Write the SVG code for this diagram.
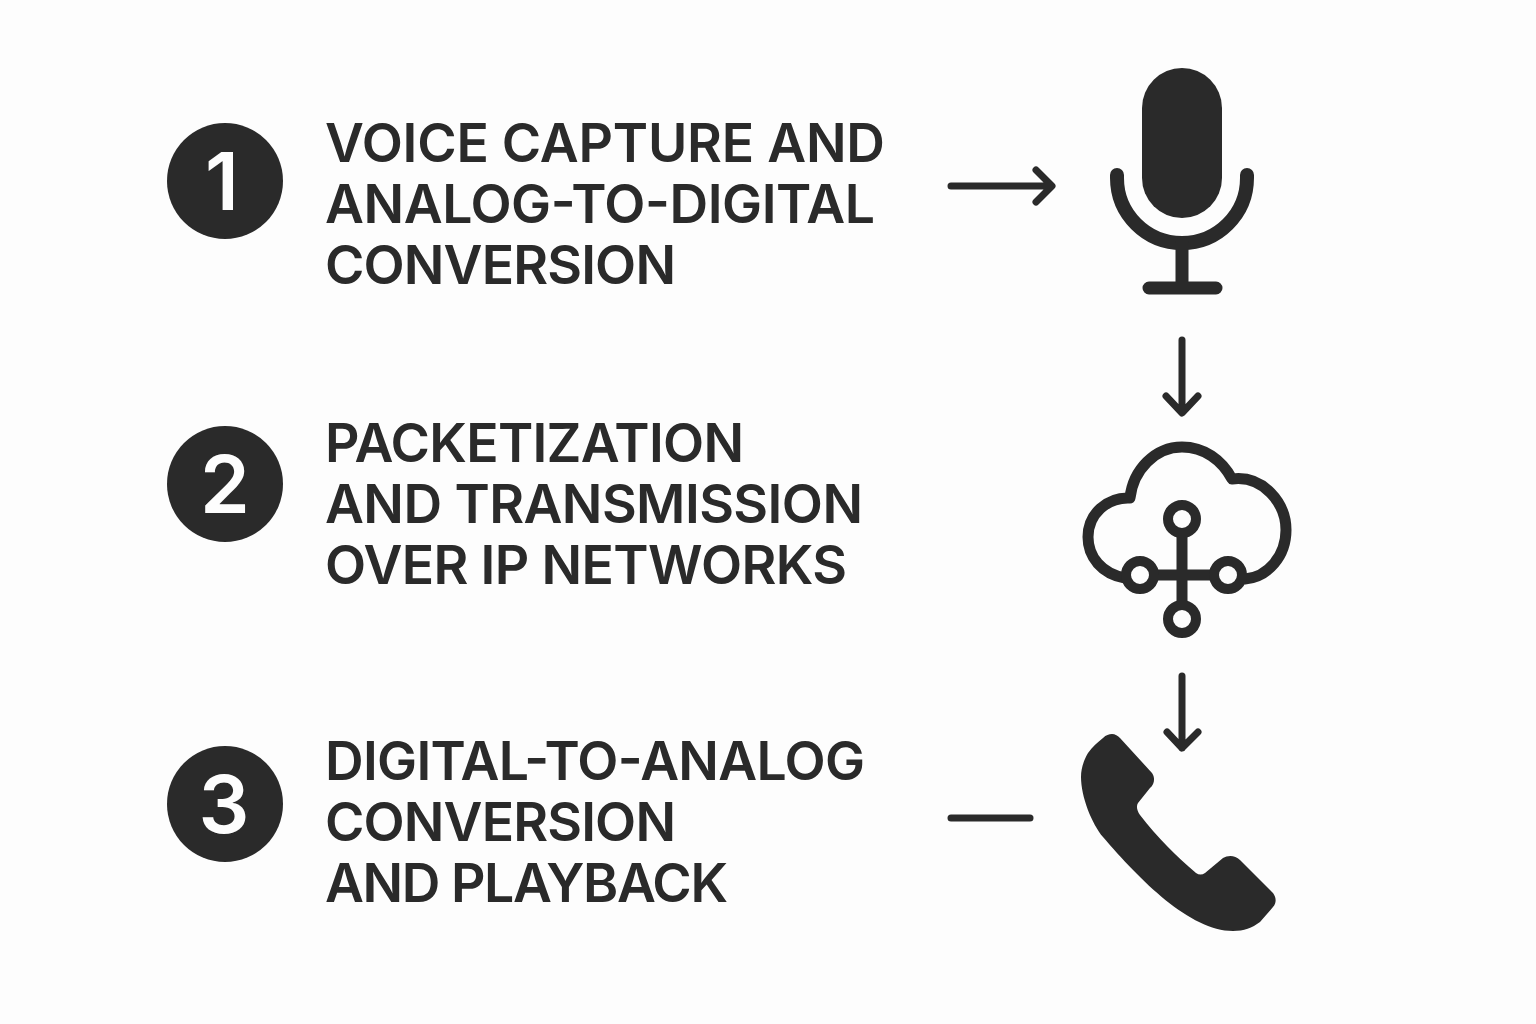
<svg xmlns="http://www.w3.org/2000/svg" width="1536" height="1024" viewBox="0 0 1536 1024">
<style>
.t{font-family:Inter,"Liberation Sans",sans-serif;font-weight:600;font-size:53.5px;fill:#2a2a2a}
.n{font-family:Inter,"Liberation Sans",sans-serif;font-weight:600;font-size:80px;fill:#fdfdfd;text-anchor:middle}
.c{fill:#2a2a2a}
.l{fill:none;stroke:#2a2a2a;stroke-linecap:round;stroke-linejoin:round}
</style>
<rect width="1536" height="1024" fill="#fdfdfd"/>
<g id="step1"><circle class="c" cx="225" cy="181" r="58"/><text class="n" x="222" y="210">1</text>
<text class="t" x="325" y="162" textLength="560" lengthAdjust="spacing">VOICE CAPTURE AND</text><text class="t" x="325" y="223" textLength="550" lengthAdjust="spacing">ANALOG-TO-DIGITAL</text><text class="t" x="325" y="284" textLength="351" lengthAdjust="spacing">CONVERSION</text></g>
<g id="step2"><circle class="c" cx="225" cy="484" r="58"/><text class="n" x="225" y="513">2</text>
<text class="t" x="325" y="462" textLength="419" lengthAdjust="spacing">PACKETIZATION</text><text class="t" x="325" y="523" textLength="538" lengthAdjust="spacing">AND TRANSMISSION</text><text class="t" x="325" y="584" textLength="522" lengthAdjust="spacing">OVER IP NETWORKS</text></g>
<g id="step3"><circle class="c" cx="225" cy="804" r="58"/><text class="n" x="224" y="833">3</text>
<text class="t" x="325" y="780" textLength="540" lengthAdjust="spacing">DIGITAL-TO-ANALOG</text><text class="t" x="325" y="841" textLength="351" lengthAdjust="spacing">CONVERSION</text><text class="t" x="325" y="902" textLength="403" lengthAdjust="spacing">AND PLAYBACK</text></g>
<g id="mic"><rect class="c" x="1142" y="68" width="80" height="150" rx="40"/>
<path class="l" stroke-width="14" d="M1117 175V178A65 65 0 0 0 1247 178V175"/>
<path class="l" stroke-width="13" d="M1182 243V288M1149 288H1216"/></g>
<g id="cloud"><path class="l" stroke-width="11" d="M1125 578C1102 574 1088 557 1088 537C1088 514 1107 497 1130 498C1133 470 1155 447 1182 447C1204 447 1222 460 1232 479C1263 475 1286 503 1286 530C1286 556 1268 577 1245 579"/>
<path class="l" stroke-width="11" d="M1182 533V605M1154 575H1214"/>
<g fill="#fdfdfd" stroke="#2a2a2a" stroke-width="10"><circle cx="1182" cy="519" r="14"/><circle cx="1140" cy="575" r="14"/><circle cx="1228" cy="575" r="14"/><circle cx="1182" cy="619" r="14"/></g></g>
<g id="phone"><path class="c" d="M1112 734C1115 734 1118 736 1120 738L1152 773C1155 777 1155 784 1150 788L1138 803C1136 806 1137 811 1140 815C1158 838 1176 856 1196 873C1199 875 1202 875 1205 873L1223 858C1228 855 1235 855 1240 860L1273 893C1276 897 1277 902 1273 907L1260 922C1252 928 1244 931 1233 931C1190 931 1140 880 1103 837C1092 824 1081 797 1081 777C1081 768 1084 760 1088 753C1092 747 1098 742 1103 738C1106 735 1109 734 1112 734Z"/></g>
<g id="connectors">
<path class="l" stroke-width="7" d="M951 186H1051M1036 170L1052 186L1036 202"/>
<path class="l" stroke-width="7" d="M1182 340V412M1166 396L1182 413L1198 396"/>
<path class="l" stroke-width="7" d="M1182 676V748M1167 732L1182 748L1198 732"/>
<path class="l" stroke-width="7" d="M951 818H1030"/>
</g>
</svg>
